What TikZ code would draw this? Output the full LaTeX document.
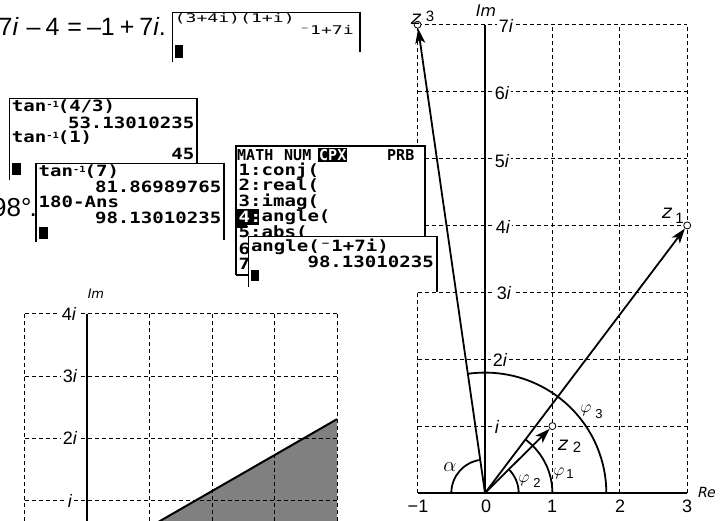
\documentclass[tikz,border=0pt]{standalone}
\usepackage{fontspec}
\setmainfont{Liberation Sans}
\newfontfamily\calcA[FakeStretch=1.23]{DejaVu Sans Mono Bold}
\newfontfamily\calcB[FakeStretch=1.51]{DejaVu Sans Mono}
\newfontfamily\calcC[FakeStretch=1.0]{DejaVu Sans Mono Bold}
\newfontfamily\obl[FakeSlant=0.2]{DejaVu Sans}
\usetikzlibrary{arrows.meta}
\newcommand\fs[1]{\fontsize{#1}{#1}\selectfont}
\newcommand\tinv{\makebox[11.46pt][l]{\raisebox{4.5pt}{\fs{8.5}-1}}}
\begin{document}
\begin{tikzpicture}[x=1pt,y=-1pt,
  dgrid/.style={line width=0.9pt, dash pattern=on 4pt off 3pt},
  axisline/.style={line width=2.2pt},
  vecline/.style={line width=1.8pt, -{Stealth[length=15pt,width=10pt,inset=4pt]}},
  arcline/.style={line width=1.8pt},
  ptc/.style={circle, draw, fill=white, inner sep=0pt, minimum size=7pt, line width=0.8pt},
  tlab/.style={fill=white, inner sep=1.5pt, font=\fs{18}},
  plain/.style={inner sep=0pt},
  scrline/.style={line width=1.1pt},
  ctxt/.style={inner sep=0pt, anchor=west, font={\calcA\fs{15.5}}},
  ctxr/.style={inner sep=0pt, anchor=east, font={\calcA\fs{15.5}}},
  htxt/.style={inner sep=0pt, anchor=west, font={\calcC\fs{15}}},
  btxt/.style={inner sep=0pt, font={\calcB\fs{12}}}
]
\useasboundingbox (0,0) rectangle (728,520);
\clip (0,0) rectangle (728,520);

% ---------- right diagram ----------
\begin{scope}[shift={(485pt,-493pt)}, x=67.4pt, y=66.9pt]
  \foreach \yy in {1,...,7} \draw[dgrid] (-1,\yy) -- (3,\yy);
  \foreach \xx in {-1,1,2,3} \draw[dgrid] (\xx,0) -- (\xx,7);
  \draw[axisline] (-1,0) -- (3,0);
  \draw[axisline] (0,0) -- (0,7);
  \draw[arcline] (0.5,0) arc[start angle=0,end angle=45,radius=0.5];
  \draw[arcline] (1,0) arc[start angle=0,end angle=53.13,radius=1];
  \draw[arcline] (1.8,0) arc[start angle=0,end angle=98.13,radius=1.8];
  \draw[arcline] (-0.5,0) arc[start angle=180,end angle=98.13,radius=0.5];
  \coordinate (O) at (0,0);
  \node[ptc] (z1) at (3,4) {};
  \node[ptc] (z2) at (1,1) {};
  \node[ptc] (z3) at (-1,7) {};
  \draw[vecline] (O) -- (z1);
  \draw[vecline] (O) -- (z2);
  \draw[vecline] (O) -- (z3);
\end{scope}
\node[tlab] (r7) at (506,26) {7\textit{i}};
\node[tlab] (r6) at (502,93) {6\textit{i}};
\node[tlab] (r5) at (502,161) {5\textit{i}};
\node[tlab] (r4) at (503,227) {4\textit{i}};
\node[tlab] (r3) at (504,293) {3\textit{i}};
\node[tlab] (r2) at (500,360) {2\textit{i}};
\node[tlab] (r1) at (497,427) {\textit{i}};
\node[plain, font=\fs{18}] (xm1) at (418,506) {−1};
\node[plain, font=\fs{18}] (x0) at (486,506) {0};
\node[plain, font=\fs{18}] (x1) at (552,506) {1};
\node[plain, font=\fs{18}] (x2) at (620,506) {2};
\node[plain, font=\fs{18}] (x3) at (687,506) {3};
\node[plain, font={\obl\fs{14}}] (rel) at (706,492) {Re};
\node[plain, font={\obl\fs{16}}] (iml) at (485,11) {Im};
\node[plain, font={\obl\fs{19}}] (z3l) at (415,19) {z};
\node[plain, font=\fs{15}] (z3s) at (430,16) {3};
\node[plain, font={\obl\fs{19}}] (z1l) at (666,213) {z};
\node[plain, font=\fs{15}] (z1s) at (679.5,218) {1};
\node[plain, font={\obl\fs{19}}] (z2l) at (562,445) {z};
\node[plain, font=\fs{15}] (z2s) at (577,447) {2};
\node[plain, font=\fs{18}] (p3) at (586,410.5) {$\varphi$};
\node[plain, font=\fs{13}] (p3s) at (599,414) {3};
\node[plain, font=\fs{18}] (p2) at (524,480) {$\varphi$};
\node[plain, font=\fs{13}] (p2s) at (537,482.5) {2};
\node[plain, font=\fs{18}] (p1) at (559,473.5) {$\varphi$};
\node[plain, font=\fs{13}] (p1s) at (570,474) {1};
\node[plain, font=\fs{21}] (al) at (450,467.5) {$\alpha$};

% ---------- bottom-left diagram ----------
\begin{scope}[shift={(87pt,-563pt)}, x=62.5pt, y=62.3pt]
  \coordinate (O2) at (0,0);
  \coordinate (E2) at (4,2.309);
  \coordinate (C2) at (4,0);
  \fill[gray] (O2) -- (E2) -- (C2) -- cycle;
  \foreach \yy in {1,...,4} \draw[dgrid] (-1,\yy) -- (4,\yy);
  \foreach \xx in {-1,1,2,3,4} \draw[dgrid] (\xx,0) -- (\xx,4);
  \draw[axisline] (0,0) -- (0,4);
  \draw[line width=2pt] (O2) -- (E2);
\end{scope}
\node[tlab] (b4) at (69,314) {4\textit{i}};
\node[tlab] (b3) at (70,376) {3\textit{i}};
\node[tlab] (b2) at (70,438) {2\textit{i}};
\node[tlab] (b1) at (70,501) {\textit{i}};
\node[plain, font={\obl\fs{13}}] (imb) at (95,294) {Im};

% ---------- screen 1 ----------
\fill[white] (172.3,12.7) rectangle (360,62);
\draw[scrline] (172.3,62) -- (172.3,12.7) -- (360,12.7) -- (360,52);
\node[btxt, anchor=west] (s1a) at (174.5,19) {(3+4i)(1+i)};
\node[btxt, anchor=east] (s1b) at (354,29.5) {⁻1+7i};
\fill (175,45) rectangle (183,58);

% ---------- screen 2 ----------
\fill[white] (9.3,98.3) rectangle (197,182);
\draw[scrline] (9.3,180) -- (9.3,98.3) -- (197,98.3) -- (197,182);
\node[ctxt] (s2a) at (11.7,107) {tan\tinv(4/3)};
\node[ctxr] (s2b) at (194.5,122.5) {53.13010235};
\node[ctxt] (s2c) at (11.7,138) {tan\tinv(1)};
\node[ctxr] (s2d) at (194.5,153.5) {45};
\fill (11.7,163) rectangle (21,175);

% ---------- screen 3 ----------
\fill[white] (36,163.3) rectangle (224,245);
\draw[scrline] (36,242) -- (36,163.3) -- (224,163.3) -- (224,240);
\node[ctxt] (s3a) at (38.5,171.7) {tan\tinv(7)};
\node[ctxr] (s3b) at (221.5,187) {81.86989765};
\node[ctxt] (s3c) at (38.5,202.3) {180-Ans};
\node[ctxr] (s3d) at (221.5,217.6) {98.13010235};
\fill (38.5,227) rectangle (48,239);

% ---------- screen 4 (MATH menu) ----------
\fill[white] (236,146) rectangle (425,275);
\draw[scrline] (236,275) -- (236,146) -- (425,146) -- (425,237);
\draw[scrline] (236,275) -- (248.3,275);
\node[htxt] (h1) at (237,155) {MATH};
\node[htxt] (h2) at (284,155) {NUM};
\node[htxt, fill=black, text=white, inner sep=1pt] (h3) at (318,155) {CPX};
\node[htxt] (h4) at (387,155) {PRB};
\node[ctxt] (m1) at (238.5,170.5) {1:conj(};
\node[ctxt] (m2) at (238.5,186) {2:real(};
\node[ctxt] (m3) at (238.5,201.5) {3:imag(};
\fill (237,209) rectangle (259,224.5);
\fill (237,221) rectangle (247,228);
\node[ctxt, text=white] (m4a) at (238.5,217) {4:};
\node[ctxt] (m4b) at (261.4,217) {angle(};
\node[ctxt] (m5) at (238.5,233) {5:abs(};
\node[ctxt] (m6) at (238.5,248.5) {6};
\node[ctxt] (m7) at (238.5,264) {7};

% ---------- screen 5 ----------
\fill[white] (248.3,236.5) rectangle (437,292);
\draw[scrline] (248.3,287) -- (248.3,236.5) -- (437,236.5) -- (437,292);
\node[ctxt] (s5a) at (250.8,246.7) {angle(⁻1+7i)};
\node[ctxr] (s5b) at (434,261.7) {98.13010235};
\fill (251,270) rectangle (259,281);

% ---------- cut text ----------
\node[anchor=base west, inner sep=0pt, font=\fs{25}] (eq) at (-1.5,35)
  {7\textit{i}\hspace{8pt}–\hspace{5pt}4\hspace{8pt}=\hspace{5pt}–1\hspace{5pt}+\hspace{5pt}7\textit{i}.};
\node[anchor=base west, inner sep=0pt, font=\fs{26}] (deg) at (-8,216.5) {98°\kern-2pt.};
\end{tikzpicture}
\end{document}
